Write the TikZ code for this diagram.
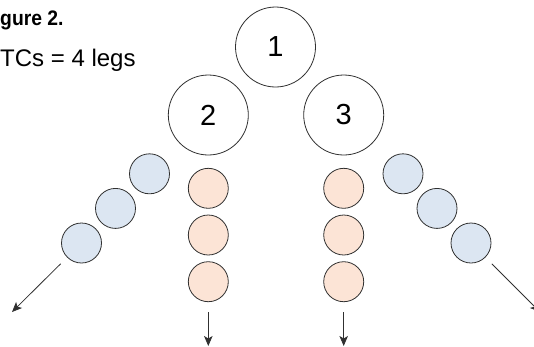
\documentclass[tikz,border=0pt]{standalone}
\usepackage{fontspec}
\setmainfont{Liberation Sans}
\usepackage{tikz}
\usepackage{xcolor}
\usetikzlibrary{arrows.meta}
\usetikzlibrary{shapes}
\usetikzlibrary{positioning}

\definecolor{legblue}{HTML}{DCE6F2}
\definecolor{legpink}{HTML}{FCE4D6}
\definecolor{edgegray}{HTML}{303030}

\begin{document}
\begin{tikzpicture}[x=1pt, y=-1pt, >={Stealth[length=10pt,width=8.5pt,inset=2.5pt]},
  bigcirc/.style={circle, draw=edgegray, line width=0.8pt, fill=white,
    minimum size=80pt, inner sep=0, font=\fontsize{29}{32}\selectfont},
  smallcirc/.style={circle, draw=edgegray, line width=0.8pt,
    minimum size=40pt, inner sep=0},
  bluecirc/.style={smallcirc, fill=legblue},
  pinkcirc/.style={smallcirc, fill=legpink},
  legarrow/.style={->, draw=edgegray, line width=0.8pt}]
\useasboundingbox (0,0) rectangle (534,346);
\clip (0,0) rectangle (534,346);

%Caption
\node[anchor=base west, inner sep=0] (figtitle) at (0, 25.7)
  {\fontsize{21}{24}\selectfont\scalebox{0.92}[1]{\bfseries gure 2.}};
\node[anchor=base west, inner sep=0] (legcount) at (0, 66)
  {\fontsize{24}{28}\selectfont TCs = 4 legs};

%Top circles
\node[bigcirc] (c1) at (275.5, 47) {1};
\node[bigcirc] (c2) at (208.3, 115) {2};
\node[bigcirc] (c3) at (343.7, 115) {3};

%Legs
\foreach \i in {0,1,2} {
  \node[pinkcirc] (pl\i) at (208.3, 188.3+46.7*\i) {};
  \node[pinkcirc] (pr\i) at (343.7, 188.3+46.7*\i) {};
  \node[bluecirc] (bl\i) at (149.5-34*\i, 173.8+34.6*\i) {};
  \node[bluecirc] (br\i) at (403+34*\i, 173.8+34.6*\i) {};
}

\coordinate (endbl) at (12, 312);
\coordinate (endbr) at (540, 312);
\coordinate (endpl) at (208.3, 346);
\coordinate (endpr) at (343.7, 346);

\draw[legarrow, shorten <=9pt] (bl2.225) -- (endbl);
\draw[legarrow, shorten <=9pt] (br2.315) -- (endbr);
\draw[legarrow, shorten <=10pt] (pl2.south) -- (endpl);
\draw[legarrow, shorten <=10pt] (pr2.south) -- (endpr);
\end{tikzpicture}
\end{document}
